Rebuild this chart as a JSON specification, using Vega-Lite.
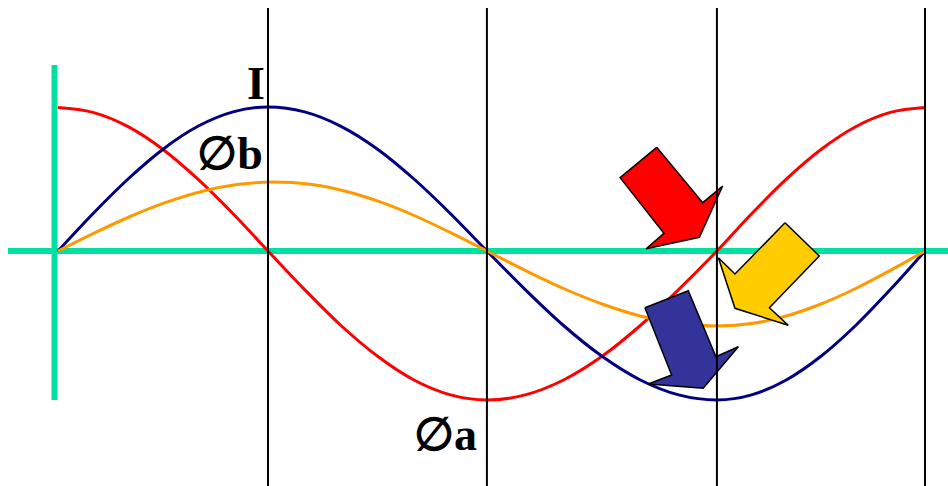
{
  "$schema": "https://vega.github.io/schema/vega-lite/v6.json",
  "width": 948,
  "height": 486,
  "autosize": {"type": "none"},
  "padding": 0,
  "background": "#ffffff",
  "config": {"view": {"stroke": null}},
  "datasets": {
    "curves": [
      {"s": "red", "x": 0, "y": 1.435}, {"s": "red", "x": 14.5, "y": 1.386}, {"s": "red", "x": 29.1, "y": 1.243}, {"s": "red", "x": 43.6, "y": 1.015}, {"s": "red", "x": 58.1, "y": 0.718}, {"s": "red", "x": 72.7, "y": 0.372}, {"s": "red", "x": 87.2, "y": 0},
      {"s": "red", "x": 102.4, "y": -0.386}, {"s": "red", "x": 117.5, "y": -0.745}, {"s": "red", "x": 132.7, "y": -1.053}, {"s": "red", "x": 147.8, "y": -1.29}, {"s": "red", "x": 163.0, "y": -1.439}, {"s": "red", "x": 178.1, "y": -1.49},
      {"s": "red", "x": 194.0, "y": -1.439}, {"s": "red", "x": 209.9, "y": -1.29}, {"s": "red", "x": 225.9, "y": -1.053}, {"s": "red", "x": 241.8, "y": -0.745}, {"s": "red", "x": 257.7, "y": -0.386}, {"s": "red", "x": 273.6, "y": 0},
      {"s": "red", "x": 288.0, "y": 0.372}, {"s": "red", "x": 302.4, "y": 0.718}, {"s": "red", "x": 316.8, "y": 1.015}, {"s": "red", "x": 331.2, "y": 1.243}, {"s": "red", "x": 345.6, "y": 1.386}, {"s": "red", "x": 360, "y": 1.435},
      {"s": "navy", "x": 0, "y": 0}, {"s": "navy", "x": 14.5, "y": 0.373}, {"s": "navy", "x": 29.1, "y": 0.72}, {"s": "navy", "x": 43.6, "y": 1.018}, {"s": "navy", "x": 58.1, "y": 1.247}, {"s": "navy", "x": 72.7, "y": 1.391}, {"s": "navy", "x": 87.2, "y": 1.44},
      {"s": "navy", "x": 102.4, "y": 1.391}, {"s": "navy", "x": 117.5, "y": 1.247}, {"s": "navy", "x": 132.7, "y": 1.018}, {"s": "navy", "x": 147.8, "y": 0.72}, {"s": "navy", "x": 163.0, "y": 0.373}, {"s": "navy", "x": 178.1, "y": 0},
      {"s": "navy", "x": 194.0, "y": -0.386}, {"s": "navy", "x": 209.9, "y": -0.745}, {"s": "navy", "x": 225.9, "y": -1.053}, {"s": "navy", "x": 241.8, "y": -1.29}, {"s": "navy", "x": 257.7, "y": -1.439}, {"s": "navy", "x": 273.6, "y": -1.49},
      {"s": "navy", "x": 288.0, "y": -1.439}, {"s": "navy", "x": 302.4, "y": -1.29}, {"s": "navy", "x": 316.8, "y": -1.053}, {"s": "navy", "x": 331.2, "y": -0.745}, {"s": "navy", "x": 345.6, "y": -0.386}, {"s": "navy", "x": 360, "y": 0},
      {"s": "orange", "x": 0, "y": 0}, {"s": "orange", "x": 15.0, "y": 0.179}, {"s": "orange", "x": 30.0, "y": 0.345}, {"s": "orange", "x": 45.1, "y": 0.488}, {"s": "orange", "x": 60.1, "y": 0.598}, {"s": "orange", "x": 75.1, "y": 0.667}, {"s": "orange", "x": 90.1, "y": 0.69},
      {"s": "orange", "x": 104.8, "y": 0.667}, {"s": "orange", "x": 119.4, "y": 0.598}, {"s": "orange", "x": 134.1, "y": 0.488}, {"s": "orange", "x": 148.8, "y": 0.345}, {"s": "orange", "x": 163.4, "y": 0.179}, {"s": "orange", "x": 178.1, "y": 0},
      {"s": "orange", "x": 194.0, "y": -0.194}, {"s": "orange", "x": 209.9, "y": -0.375}, {"s": "orange", "x": 225.9, "y": -0.53}, {"s": "orange", "x": 241.8, "y": -0.65}, {"s": "orange", "x": 257.7, "y": -0.725}, {"s": "orange", "x": 273.6, "y": -0.75},
      {"s": "orange", "x": 288.0, "y": -0.725}, {"s": "orange", "x": 302.4, "y": -0.65}, {"s": "orange", "x": 316.8, "y": -0.53}, {"s": "orange", "x": 331.2, "y": -0.375}, {"s": "orange", "x": 345.6, "y": -0.194}, {"s": "orange", "x": 360, "y": 0}
    ],
    "arrows": [
      {"a": "red", "o": 1, "x": 248.6, "y": 1.037}, {"a": "red", "o": 2, "x": 233.4, "y": 0.733}, {"a": "red", "o": 3, "x": 251.6, "y": 0.177}, {"a": "red", "o": 4, "x": 244.2, "y": 0.023}, {"a": "red", "o": 5, "x": 266.3, "y": 0.137}, {"a": "red", "o": 6, "x": 276.0, "y": 0.65}, {"a": "red", "o": 7, "x": 267.7, "y": 0.483}, {"a": "red", "o": 8, "x": 248.6, "y": 1.037},
      {"a": "yellow", "o": 1, "x": 301.9, "y": 0.283}, {"a": "yellow", "o": 2, "x": 316.1, "y": -0.05}, {"a": "yellow", "o": 3, "x": 295.4, "y": -0.567}, {"a": "yellow", "o": 4, "x": 303.2, "y": -0.743}, {"a": "yellow", "o": 5, "x": 281.1, "y": -0.573}, {"a": "yellow", "o": 6, "x": 274.2, "y": -0.067}, {"a": "yellow", "o": 7, "x": 281.1, "y": -0.23}, {"a": "yellow", "o": 8, "x": 301.9, "y": 0.283},
      {"a": "blue", "o": 1, "x": 243.7, "y": -0.567}, {"a": "blue", "o": 2, "x": 261.7, "y": -0.397}, {"a": "blue", "o": 3, "x": 273.2, "y": -1.057}, {"a": "blue", "o": 4, "x": 282.5, "y": -0.957}, {"a": "blue", "o": 5, "x": 267.9, "y": -1.373}, {"a": "blue", "o": 6, "x": 245.1, "y": -1.33}, {"a": "blue", "o": 7, "x": 254.8, "y": -1.24}, {"a": "blue", "o": 8, "x": 243.7, "y": -0.567}
    ],
    "verticals": [
      {"x": 87.2, "y": 2.43, "y2": -2.35},
      {"x": 178.1, "y": 2.43, "y2": -2.35},
      {"x": 273.6, "y": 2.43, "y2": -2.35},
      {"x": 360, "y": 2.43, "y2": -2.35}
    ],
    "labels": [
      {"t": "I", "x": 82.2, "y": 1.52},
      {"t": "∅b", "x": 71.4, "y": 0.82},
      {"t": "∅a", "x": 160.9, "y": -1.99}
    ]
  },
  "encoding": {
    "x": {"field": "x", "type": "quantitative", "scale": {"domain": [-24.08, 369.55], "nice": false, "zero": false}, "axis": null},
    "y": {"field": "y", "type": "quantitative", "scale": {"domain": [-2.35, 2.51], "nice": false, "zero": false}, "axis": null}
  },
  "layer": [
    {
      "data": {"values": [{"x": -20.76, "x2": 369.55, "y": 0}]},
      "mark": {"type": "rule", "stroke": "#00e0a0", "strokeWidth": 6},
      "encoding": {"x2": {"field": "x2"}}
    },
    {
      "data": {"values": [{"x": -1.45, "y": 1.86, "y2": -1.49}]},
      "mark": {"type": "rule", "stroke": "#00e0a0", "strokeWidth": 6},
      "encoding": {"y2": {"field": "y2"}}
    },
    {
      "data": {"name": "curves"},
      "mark": {"type": "line", "strokeWidth": 3, "interpolate": "monotone"},
      "encoding": {
        "color": {"field": "s", "type": "nominal", "scale": {"domain": ["red", "navy", "orange"], "range": ["#ff0000", "#000080", "#ff9900"]}, "legend": null}
      }
    },
    {
      "data": {"name": "arrows"},
      "transform": [{"filter": "datum.a === 'red'"}],
      "mark": {"type": "line", "fill": "#ff0000", "stroke": "#000000", "strokeWidth": 1.5, "strokeJoin": "miter"},
      "encoding": {"order": {"field": "o", "type": "quantitative"}}
    },
    {
      "data": {"name": "arrows"},
      "transform": [{"filter": "datum.a === 'yellow'"}],
      "mark": {"type": "line", "fill": "#ffcc00", "stroke": "#000000", "strokeWidth": 1.5, "strokeJoin": "miter"},
      "encoding": {"order": {"field": "o", "type": "quantitative"}}
    },
    {
      "data": {"name": "arrows"},
      "transform": [{"filter": "datum.a === 'blue'"}],
      "mark": {"type": "line", "fill": "#333399", "stroke": "#000000", "strokeWidth": 1.5, "strokeJoin": "miter"},
      "encoding": {"order": {"field": "o", "type": "quantitative"}}
    },
    {
      "data": {"name": "verticals"},
      "mark": {"type": "rule", "stroke": "#000000", "strokeWidth": 2},
      "encoding": {"y2": {"field": "y2"}}
    },
    {
      "data": {"name": "labels"},
      "mark": {"type": "text", "font": "Liberation Serif", "fontWeight": "bold", "fontSize": 46, "baseline": "alphabetic", "align": "center", "color": "#000000"},
      "encoding": {
        "text": {"field": "t"}
      }
    }
  ]
}
